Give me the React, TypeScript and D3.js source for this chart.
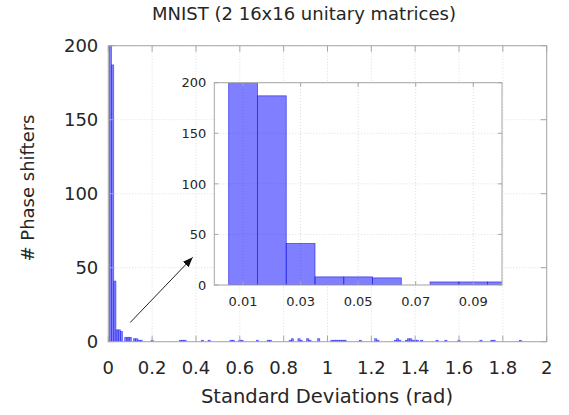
import * as d3 from 'd3'
import { useEffect, useRef } from 'react'

// histogram bins (centre of each 0.01-wide bin) and counts
const binWidth = 0.01
const headCenters = [0.01, 0.02, 0.03, 0.04, 0.05, 0.06, 0.08, 0.09, 0.1]
const headCounts = [200, 187, 41, 8, 8, 7, 3, 3, 3]
const tailCenters = [
  0.12, 0.13, 0.14, 0.15, 0.2, 0.33, 0.34, 0.35, 0.43, 0.46, 0.56, 0.57, 0.6,
  0.61, 0.68, 0.73, 0.74, 0.83, 0.84, 0.87, 0.88, 0.91, 0.92, 0.96, 1.02, 1.03,
  1.04, 1.05, 1.06, 1.07, 1.08, 1.15, 1.22, 1.23, 1.31, 1.32, 1.33, 1.36, 1.37,
  1.38, 1.39, 1.4, 1.41, 1.43, 1.5, 1.54, 1.6, 1.7, 1.75, 1.76, 1.88,
]
const tailCounts = [
  2, 2, 1, 1, 1, 1, 1, 1, 1, 1, 1, 1, 1, 1, 1, 1, 1, 1, 2, 2, 1, 2, 1, 2, 1, 1,
  1, 1, 1, 1, 1, 1, 2, 1, 1, 2, 1, 1, 2, 2, 1, 1, 1, 1, 1, 1, 1, 1, 1, 1, 1,
]

const xTicks = [0, 0.2, 0.4, 0.6, 0.8, 1, 1.2, 1.4, 1.6, 1.8, 2]
const yTicks = [0, 50, 100, 150, 200]
const insetXTicks = [0.01, 0.03, 0.05, 0.07, 0.09]
const insetYTicks = [0, 50, 100, 150, 200]

const title = 'MNIST (2 16x16 unitary matrices)'
const xLabel = 'Standard Deviations (rad)'
const yLabel = '# Phase shifters'

export default function App() {
  const ref = useRef<HTMLDivElement | null>(null)

  useEffect(() => {
    const width = 569
    const height = 415
    const font = 'DejaVu Sans, sans-serif'
    const frameColor = '#a6a6a6'
    const gridColor = '#dcdcdc'
    const textColor = '#262626'
    const barFill = 'rgba(0,0,255,0.5)'
    const barStroke = 'rgba(40,40,230,0.8)'

    const bins = [
      ...headCenters.map((c, i) => ({ c, n: headCounts[i] })),
      ...tailCenters.map((c, i) => ({ c, n: tailCounts[i] })),
    ]

    const x = d3.scaleLinear().domain([0, 2]).range([108.3, 546.7])
    const y = d3.scaleLinear().domain([0, 200]).range([341.7, 45.7])
    const ix = d3.scaleLinear().domain([0, 0.1]).range([214.3, 502])
    const iy = d3.scaleLinear().domain([0, 200]).range([285, 82.7])

    const svg = d3
      .create('svg')
      .attr('width', width)
      .attr('height', height)
      .attr('viewBox', [0, 0, width, height])
      .style('position', 'absolute')
      .style('left', '0px')
      .style('top', '0px')
      .style('font-family', font)

    svg.append('rect').attr('width', width).attr('height', height).attr('fill', '#fff')

    const defs = svg.append('defs')
    defs
      .append('clipPath')
      .attr('id', 'main-clip')
      .append('rect')
      .attr('x', x(0))
      .attr('y', y(200))
      .attr('width', x(2) - x(0))
      .attr('height', y(0) - y(200))
    defs
      .append('clipPath')
      .attr('id', 'inset-clip')
      .append('rect')
      .attr('x', ix(0))
      .attr('y', iy(200))
      .attr('width', ix(0.1) - ix(0))
      .attr('height', iy(0) - iy(200))
    defs
      .append('marker')
      .attr('id', 'arrow')
      .attr('viewBox', '0 0 10 10')
      .attr('refX', 10)
      .attr('refY', 5)
      .attr('markerWidth', 10)
      .attr('markerHeight', 10)
      .attr('markerUnits', 'userSpaceOnUse')
      .attr('orient', 'auto')
      .append('path')
      .attr('d', 'M0,1 L10,5 L0,9 Z')
      .attr('fill', '#111')

    // generic frame with grid, inward ticks, labels
    function drawFrame(
      g: d3.Selection<SVGGElement, unknown, null, undefined>,
      sx: d3.ScaleLinear<number, number>,
      sy: d3.ScaleLinear<number, number>,
      xt: number[],
      yt: number[],
      fontSize: number,
      tickLen: number,
      xFmt: (v: number) => string,
      xLabelGap: number,
      yLabelGap: number
    ) {
      const [x0, x1] = sx.range()
      const [y0, y1] = sy.range()
      const grid = g.append('g')
      grid
        .selectAll('line.gx')
        .data(xt)
        .join('line')
        .attr('x1', (d) => sx(d))
        .attr('x2', (d) => sx(d))
        .attr('y1', y0)
        .attr('y2', y1)
        .attr('stroke', gridColor)
        .attr('stroke-dasharray', '1,2')
      grid
        .selectAll('line.gy')
        .data(yt)
        .join('line')
        .attr('x1', x0)
        .attr('x2', x1)
        .attr('y1', (d) => sy(d))
        .attr('y2', (d) => sy(d))
        .attr('stroke', gridColor)
        .attr('stroke-dasharray', '1,2')
      return () => {
        const ticks = g.append('g').attr('stroke', frameColor).attr('stroke-width', 1)
        xt.forEach((d) => {
          ticks.append('line').attr('x1', sx(d)).attr('x2', sx(d)).attr('y1', y0).attr('y2', y0 - tickLen)
          ticks.append('line').attr('x1', sx(d)).attr('x2', sx(d)).attr('y1', y1).attr('y2', y1 + tickLen)
        })
        yt.forEach((d) => {
          ticks.append('line').attr('x1', x0).attr('x2', x0 + tickLen).attr('y1', sy(d)).attr('y2', sy(d))
          ticks.append('line').attr('x1', x1).attr('x2', x1 - tickLen).attr('y1', sy(d)).attr('y2', sy(d))
        })
        g.append('rect')
          .attr('x', x0)
          .attr('y', y1)
          .attr('width', x1 - x0)
          .attr('height', y0 - y1)
          .attr('fill', 'none')
          .attr('stroke', frameColor)
        g.append('g')
          .selectAll('text')
          .data(xt)
          .join('text')
          .attr('x', (d) => sx(d))
          .attr('y', y0 + xLabelGap)
          .attr('text-anchor', 'middle')
          .attr('font-size', fontSize)
          .attr('fill', textColor)
          .text((d) => xFmt(d))
        g.append('g')
          .selectAll('text')
          .data(yt)
          .join('text')
          .attr('x', x0 - yLabelGap)
          .attr('y', (d) => sy(d))
          .attr('dy', '0.36em')
          .attr('text-anchor', 'end')
          .attr('font-size', fontSize)
          .attr('fill', textColor)
          .text((d) => String(d))
      }
    }

    // main axes
    const main = svg.append('g')
    const finishMain = drawFrame(main, x, y, xTicks, yTicks, 18, 6, (d) => String(d), 32, 10)
    main
      .append('g')
      .attr('clip-path', 'url(#main-clip)')
      .selectAll('rect')
      .data(bins)
      .join('rect')
      .attr('x', (d) => x(d.c - binWidth / 2))
      .attr('width', (d) => x(d.c + binWidth / 2) - x(d.c - binWidth / 2))
      .attr('y', (d) => y(d.n))
      .attr('height', (d) => y(0) - y(d.n))
      .attr('fill', barFill)
      .attr('stroke', barStroke)
      .attr('stroke-width', 0.6)
    finishMain()

    // arrow pointing to inset
    svg
      .append('line')
      .attr('x1', x(0.1))
      .attr('y1', y(13))
      .attr('x2', x(0.385))
      .attr('y2', y(57))
      .attr('stroke', '#222')
      .attr('stroke-width', 1)
      .attr('marker-end', 'url(#arrow)')

    // inset
    const inset = svg.append('g')
    inset
      .append('rect')
      .attr('x', ix(0))
      .attr('y', iy(200))
      .attr('width', ix(0.1) - ix(0))
      .attr('height', iy(0) - iy(200))
      .attr('fill', '#fff')
    const finishInset = drawFrame(inset, ix, iy, insetXTicks, insetYTicks, 13, 4, (d) => d.toFixed(2), 21, 8)
    inset
      .append('g')
      .attr('clip-path', 'url(#inset-clip)')
      .selectAll('rect')
      .data(bins.filter((d) => d.c <= 0.1))
      .join('rect')
      .attr('x', (d) => ix(d.c - binWidth / 2))
      .attr('width', (d) => ix(d.c + binWidth / 2) - ix(d.c - binWidth / 2))
      .attr('y', (d) => iy(d.n))
      .attr('height', (d) => iy(0) - iy(d.n))
      .attr('fill', barFill)
      .attr('stroke', barStroke)
      .attr('stroke-width', 0.8)
    finishInset()

    // titles
    svg
      .append('text')
      .attr('x', 304)
      .attr('y', 20)
      .attr('text-anchor', 'middle')
      .attr('font-size', 18)
      .attr('fill', textColor)
      .text(title)
    svg
      .append('text')
      .attr('x', 327)
      .attr('y', 403)
      .attr('text-anchor', 'middle')
      .attr('font-size', 19.5)
      .attr('fill', textColor)
      .text(xLabel)
    svg
      .append('text')
      .attr('transform', `translate(34,188) rotate(-90)`)
      .attr('text-anchor', 'middle')
      .attr('font-size', 18)
      .attr('fill', textColor)
      .text(yLabel)

    if (ref.current) {
      ref.current.innerHTML = ''
      ref.current.appendChild(svg.node()!)
    }
  }, [])

  return <div ref={ref} style={{ width: 569, height: 415 }} />
}
